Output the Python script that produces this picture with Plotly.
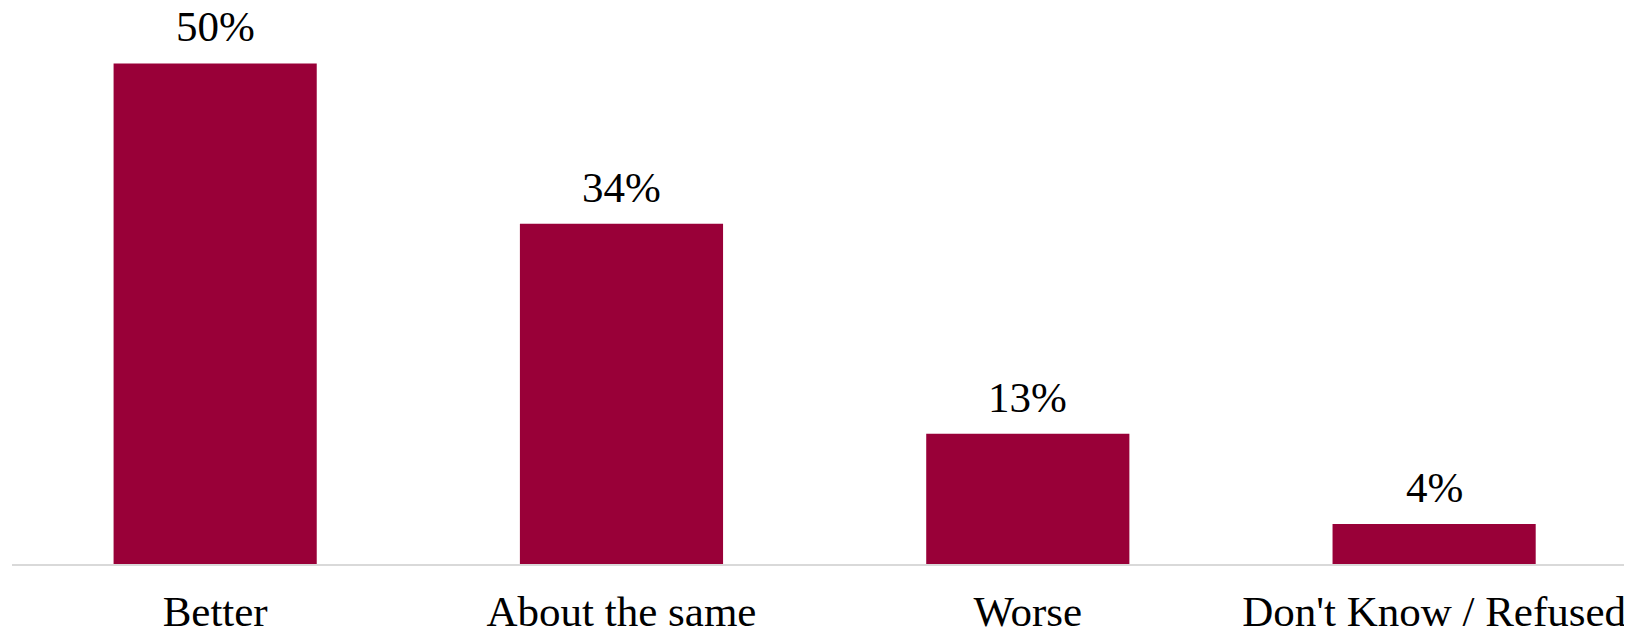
import plotly.graph_objects as go

categories = ["Better", "About the same", "Worse", "Don't Know / Refused"]
values = [50, 34, 13, 4]
labels = ["50%", "34%", "13%", "4%"]

BAR_COLOR = "#990038"
FONT = "Liberation Serif"
FS = 43

fig = go.Figure(
    go.Bar(
        x=categories,
        y=values,
        marker=dict(color=BAR_COLOR, line=dict(width=0)),
        cliponaxis=False,
        width=0.5,
    )
)

for c, v, t in zip(categories, values, labels):
    fig.add_annotation(
        x=c, y=v, text=t, showarrow=False,
        yanchor="bottom", yshift=11,
        font=dict(family=FONT, size=FS, color="#000000"),
    )

# page body has an 8px default margin; figure sized to fit the window
fig.update_layout(
    width=1624,
    height=628,
    margin=dict(l=4, r=0, t=5, b=72),
    paper_bgcolor="white",
    plot_bgcolor="white",
    showlegend=False,
    font=dict(family=FONT, size=FS, color="#000000"),
    xaxis=dict(
        range=[-0.5, 3.487],
        automargin=False,
        showline=True,
        linecolor="#d9d9d9",
        linewidth=2,
        ticks="",
        showgrid=False,
        ticklabelstandoff=8,
        tickfont=dict(family=FONT, size=FS, color="#000000"),
    ),
    yaxis=dict(
        range=[0, 55.04],
        automargin=False,
        visible=False,
        showgrid=False,
        zeroline=False,
    ),
)

fig.write_html("out.html")
